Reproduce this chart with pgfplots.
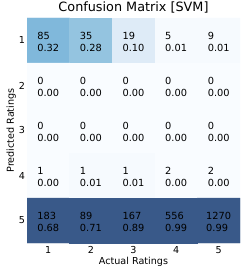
\documentclass[border=0pt]{standalone}
\usepackage{pgfplots}
\pgfplotsset{compat=1.18}
\usepackage{fontspec}
\setmainfont{DejaVu Sans}
\definecolor{b0}{RGB}{249,252,255}
\definecolor{b1}{RGB}{229,239,249}
\definecolor{b2}{RGB}{209,226,242}
\definecolor{b3}{RGB}{177,213,231}
\definecolor{b4}{RGB}{137,190,222}
\definecolor{b5}{RGB}{104,168,209}
\definecolor{b6}{RGB}{77,141,196}
\definecolor{b7}{RGB}{57,116,176}
\definecolor{b8}{RGB}{57,89,137}
\begin{document}
\begin{tikzpicture}[x=1pt,y=1pt]
\useasboundingbox (-27,-32) rectangle (223,243);
\begin{axis}[
  at={(0,0)}, anchor=south west,
  scale only axis, width=213pt, height=225pt,
  xmin=0.5, xmax=5.5, ymin=0.5, ymax=5.5,
  y dir=reverse,
  xtick={1,2,3,4,5}, ytick={1,2,3,4,5},
  major tick length=0pt,
  axis line style={draw=none},
  tick label style={font=\fontsize{9.6}{11}\selectfont},
  yticklabel style={xshift=1.5pt},
  /pgf/number format/assume math mode=true,
  xlabel={Actual Ratings}, ylabel={Predicted Ratings},
  label style={font=\fontsize{9.6}{11}\selectfont},
  xlabel style={yshift=3pt},
  ylabel style={yshift=-4pt},
  title={Confusion Matrix [SVM]},
  title style={font=\fontsize{12.8}{14}\selectfont, yshift=-5pt},
  colormap={svmblues}{color(0)=(b0) color(0.125)=(b1) color(0.25)=(b2) color(0.375)=(b3) color(0.5)=(b4) color(0.625)=(b5) color(0.75)=(b6) color(0.875)=(b7) color(1)=(b8)},
  point meta min=0, point meta max=0.6,
]
\addplot[matrix plot*, mesh/cols=5, point meta=explicit, draw=none] table[x=x, y=y, meta=f] {
x y n f
1 1 85 0.32
2 1 35 0.28
3 1 19 0.10
4 1 5 0.01
5 1 9 0.01
1 2 0 0.00
2 2 0 0.00
3 2 0 0.00
4 2 0 0.00
5 2 0 0.00
1 3 0 0.00
2 3 0 0.00
3 3 0 0.00
4 3 0 0.00
5 3 0 0.00
1 4 1 0.00
2 4 1 0.01
3 4 1 0.01
4 4 2 0.00
5 4 2 0.00
1 5 183 0.68
2 5 89 0.71
3 5 167 0.89
4 5 556 0.99
5 5 1270 0.99
};
\addplot[only marks, mark=none,
  visualization depends on={value \thisrow{n} \as \cnt},
  visualization depends on={value \thisrow{f} \as \frc},
  nodes near coords={\cnt\\\frc},
  nodes near coords align=center,
  every node near coord/.style={anchor=center, align=left, font=\fontsize{9.8}{12.2}\selectfont, text=black, inner sep=0pt, yshift=-1.5pt},
] table[x=x, y=y] {
x y n f
1 1 85 0.32
2 1 35 0.28
3 1 19 0.10
4 1 5 0.01
5 1 9 0.01
1 2 0 0.00
2 2 0 0.00
3 2 0 0.00
4 2 0 0.00
5 2 0 0.00
1 3 0 0.00
2 3 0 0.00
3 3 0 0.00
4 3 0 0.00
5 3 0 0.00
1 4 1 0.00
2 4 1 0.01
3 4 1 0.01
4 4 2 0.00
5 4 2 0.00
1 5 183 0.68
2 5 89 0.71
3 5 167 0.89
4 5 556 0.99
5 5 1270 0.99
};
\end{axis}
\end{tikzpicture}
\end{document}
